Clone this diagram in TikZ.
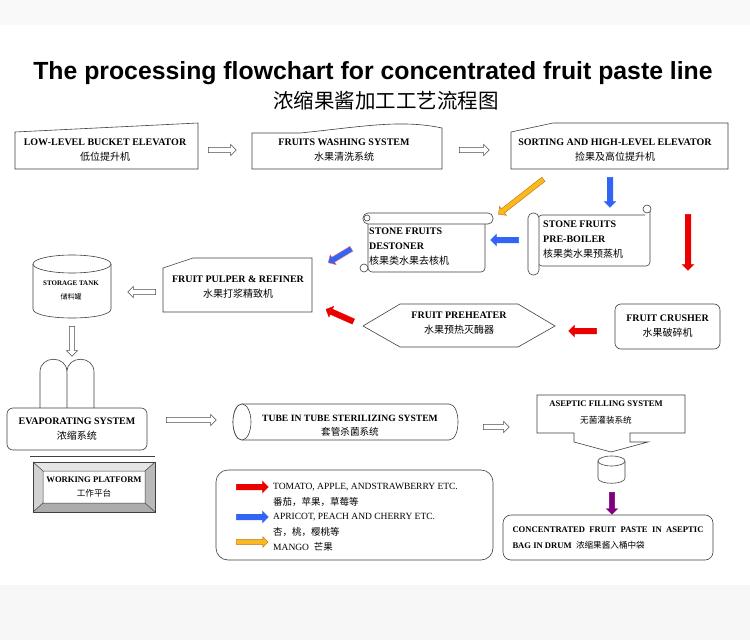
\documentclass[tikz,border=0pt]{standalone}
\usepackage{fontspec}
\setmainfont{Liberation Serif}
\newfontfamily\titlefont{Liberation Sans}
\newfontfamily\cjk{Noto Sans CJK SC}
\usetikzlibrary{shapes.arrows}

\definecolor{flowred}{RGB}{235,0,0}
\definecolor{flowblue}{RGB}{50,100,245}
\definecolor{mango}{RGB}{250,185,30}
\definecolor{mangoedge}{RGB}{190,110,20}
\definecolor{drum}{RGB}{128,0,128}

\newcommand{\zh}[1]{{\normalfont\cjk #1}}

\begin{document}
\begin{tikzpicture}[
    x=1pt, y=-1pt,
    txt/.style={font=\bfseries\fontsize{10}{15}\selectfont, align=center, inner sep=0pt},
    outline/.style={draw=black!75, fill=white, line width=0.6pt},
    rbox/.style={outline, rounded corners=6pt, txt},
    hollow/.style={single arrow, draw=black!70, fill=white, line width=0.5pt,
        inner sep=2.4pt, single arrow head extend=3pt, minimum height=#1pt},
    flow/.style={single arrow, fill=#1, draw=#1, inner sep=2.6pt,
        single arrow head extend=3pt, minimum height=28pt},
    legtext/.style={font=\fontsize{9.5}{11}\selectfont, anchor=base west, inner sep=0pt}
]

    % page and bands
    \useasboundingbox (0,0) rectangle (750,640);
    \fill[white] (0,0) rectangle (750,640);
    \fill[gray!5] (0,0) rectangle (750,25);
    \fill[gray!6] (0,585) rectangle (750,640);

    % title
    \node[font=\titlefont\bfseries\fontsize{24.8}{28}\selectfont] (title) at (373,73)
        {The processing flowchart for concentrated fruit paste line};
    \node[font=\cjk\fontsize{20.5}{22}\selectfont] (subtitle) at (386,101)
        {浓缩果酱加工工艺流程图};

    % top row
    \draw[outline] (15,132) -- (198,123) -- (198,169) -- (15,169) -- cycle;
    \node[txt] (bucket) at (105,150) {LOW-LEVEL BUCKET ELEVATOR\\\zh{低位提升机}};

    \draw[outline] (252,133) -- (300,133) .. controls (360,127) and (400,119) .. (442,128)
        -- (442,169) -- (252,169) -- cycle;
    \node[txt] (washing) at (344,150) {FRUITS WASHING SYSTEM\\\zh{水果清洗系统}};

    \draw[outline] (511,132) -- (553,123) -- (728,123) -- (728,169) -- (511,169) -- cycle;
    \node[txt] (sorting) at (615,150) {SORTING AND HIGH-LEVEL ELEVATOR\\\zh{捡果及高位提升机}};

    \node[hollow=28] (a1) at (221,150) {};
    \node[hollow=30] (a2) at (473,150) {};

    % stone fruits
    \node[flow=flowblue, minimum height=30pt, rotate=-90] (b1) at (610,191) {};
    \node[single arrow, fill=mango, draw=mangoedge, inner sep=2.4pt, single arrow head extend=3pt,
        minimum height=57pt, rotate=218] (o1) at (522,196) {};

    % destoner scroll
    \draw[outline, rounded corners=4pt] (368,220) -- (368,272) -- (485,272) -- (485,220);
    \draw[outline, rounded corners=5pt] (363,213) rectangle (493,224);
    \draw[outline] (367,218) circle (3);
    \draw[outline] (364,268) circle (4);
    \node[txt, align=left, anchor=west] (destoner) at (369,247)
        {STONE FRUITS\\DESTONER\\\zh{核果类水果去核机}};

    % pre-boiler scroll
    \draw[outline, rounded corners=4pt] (645,215) -- (538,215) -- (538,266) -- (650,266) -- (650,208);
    \draw[outline] (647,209) circle (4);
    \draw[outline, rounded corners=5pt] (528,213) rectangle (539,275);
    \node[txt, align=left, anchor=west] (preboiler) at (543,240)
        {STONE FRUITS\\PRE-BOILER\\\zh{核果类水果预蒸机}};

    \node[flow=flowblue, rotate=180] (b2) at (506,240) {};
    \node[flow=flowblue, draw=red!60, minimum height=27pt, rotate=211] (b3) at (341,255) {};
    \node[flow=flowred, minimum height=56pt, rotate=-90] (r1) at (688,241) {};

    % pulper and tank
    \draw[outline] (163,268) -- (193,258) -- (312,258) -- (312,312) -- (163,312) -- cycle;
    \node[txt] (pulper) at (238,287) {FRUIT PULPER \& REFINER\\\zh{水果打浆精致机}};
    \node[hollow=28, rotate=180] (a3) at (143,292) {};

    \draw[outline] (33,264) -- (33,309) .. controls (33,321) and (111,321) .. (111,309) -- (111,264);
    \draw[outline] (72,264) ellipse [x radius=39pt, y radius=9pt];
    \node[txt, font=\bfseries\fontsize{7}{14}\selectfont] (tank) at (71,290)
        {STORAGE TANK\\\zh{储料罐}};

    % preheater and crusher
    \draw[outline] (363,326) -- (400,304) -- (518,304) -- (555,326) -- (518,347) -- (400,347) -- cycle;
    \node[txt] (preheater) at (459,323) {FRUIT PREHEATER\\\zh{水果预热灭酶器}};
    \node[rbox, minimum width=105pt, minimum height=45pt] (crusher) at (667.5,326.5)
        {FRUIT CRUSHER\\\zh{水果破碎机}};
    \node[flow=flowred, rotate=180] (r2) at (584,331) {};
    \node[flow=flowred, minimum height=30pt, rotate=156] (r3) at (341,316) {};

    % evaporator
    \node[hollow=30, rotate=-90] (a4) at (72,340) {};
    \draw[outline] (40,408) -- (40,372) .. controls (40,355) and (67,355) .. (67,372) -- (67,408);
    \draw[outline] (67,372) .. controls (67,355) and (94,355) .. (94,372) -- (94,408);
    \node[rbox, minimum width=140pt, minimum height=42pt] (evap) at (77,429)
        {EVAPORATING SYSTEM\\\zh{浓缩系统}};
    \draw[black!75, line width=0.6pt] (30,456) -- (155,456);

    % working platform
    \fill[gray!20] (33,462) -- (155,462) -- (145,471) -- (43,471) -- cycle;
    \fill[gray!35] (33,462) -- (43,471) -- (43,503) -- (33,512) -- cycle;
    \fill[gray!55] (155,462) -- (155,512) -- (145,503) -- (145,471) -- cycle;
    \fill[gray!65] (33,512) -- (43,503) -- (145,503) -- (155,512) -- cycle;
    \draw[black!75, line width=0.6pt] (33,462) rectangle (155,512);
    \draw[black!75, line width=0.5pt] (43,471) rectangle (145,503)
        (33,462) -- (43,471) (155,462) -- (145,471) (33,512) -- (43,503) (155,512) -- (145,503);
    \node[txt, font=\bfseries\fontsize{8.6}{14}\selectfont] (platform) at (94,487)
        {WORKING PLATFORM\\\zh{工作平台}};

    % sterilizer
    \node[hollow=50] (a5) at (190,420) {};
    \draw[outline] (242,404) -- (449,404) .. controls (461,404) and (461,440) .. (449,440)
        -- (242,440) .. controls (230,440) and (230,404) .. (242,404);
    \draw[outline] (242,422) ellipse [x radius=9pt, y radius=18pt];
    \node[txt, font=\bfseries\fontsize{9.6}{14}\selectfont] (tube) at (350,426)
        {TUBE IN TUBE STERILIZING SYSTEM\\\zh{套管杀菌系统}};
    \node[hollow=26] (a6) at (495,427) {};

    % aseptic filling
    \draw[outline] (537,395) -- (685,395) -- (685,433) -- (630,433) -- (630,442) -- (648,442)
        -- (611,452) -- (574,442) -- (574,433) -- (537,433) -- cycle;
    \node[txt, font=\bfseries\fontsize{8.6}{17}\selectfont] (aseptic) at (606,413)
        {ASEPTIC FILLING SYSTEM\\\zh{无菌灌装系统}};
    \draw[outline] (598,461) -- (598,478) .. controls (598,485) and (625,485) .. (625,478) -- (625,461);
    \draw[outline] (611.5,461) ellipse [x radius=13.5pt, y radius=5pt];
    \node[flow=drum, minimum height=22pt, inner sep=2.4pt, rotate=-90] (p1) at (612,502) {};

    \node[rbox, rounded corners=8pt, minimum width=210pt, minimum height=45pt, align=left,
        font=\bfseries\fontsize{8.6}{16}\selectfont] (bag) at (608,537.5)
        {\makebox[191pt][s]{CONCENTRATED FRUIT PASTE IN ASEPTIC}\\BAG IN DRUM\ \ \zh{浓缩果酱入桶中袋}};

    % legend
    \node[outline, rounded corners=12pt, minimum width=277pt, minimum height=90pt] (legend) at (354.5,515) {};
    \node[flow=flowred, minimum height=32pt] (lr) at (251,487) {};
    \node[flow=flowblue, minimum height=32pt] (lb) at (251,517) {};
    \node[single arrow, fill=mango, draw=mangoedge, inner sep=2.2pt, single arrow head extend=3pt,
        minimum height=32pt] (lo) at (251,542) {};
    \node[legtext] (l1) at (273,489) {TOMATO, APPLE, ANDSTRAWBERRY ETC.};
    \node[legtext] (l2) at (273,505) {\zh{番茄，苹果，草莓等}};
    \node[legtext] (l3) at (273,519) {APRICOT, PEACH AND CHERRY ETC.};
    \node[legtext] (l4) at (273,535) {\zh{杏，桃，樱桃等}};
    \node[legtext] (l5) at (273,550) {MANGO\ \ \zh{芒果}};

\end{tikzpicture}
\end{document}
